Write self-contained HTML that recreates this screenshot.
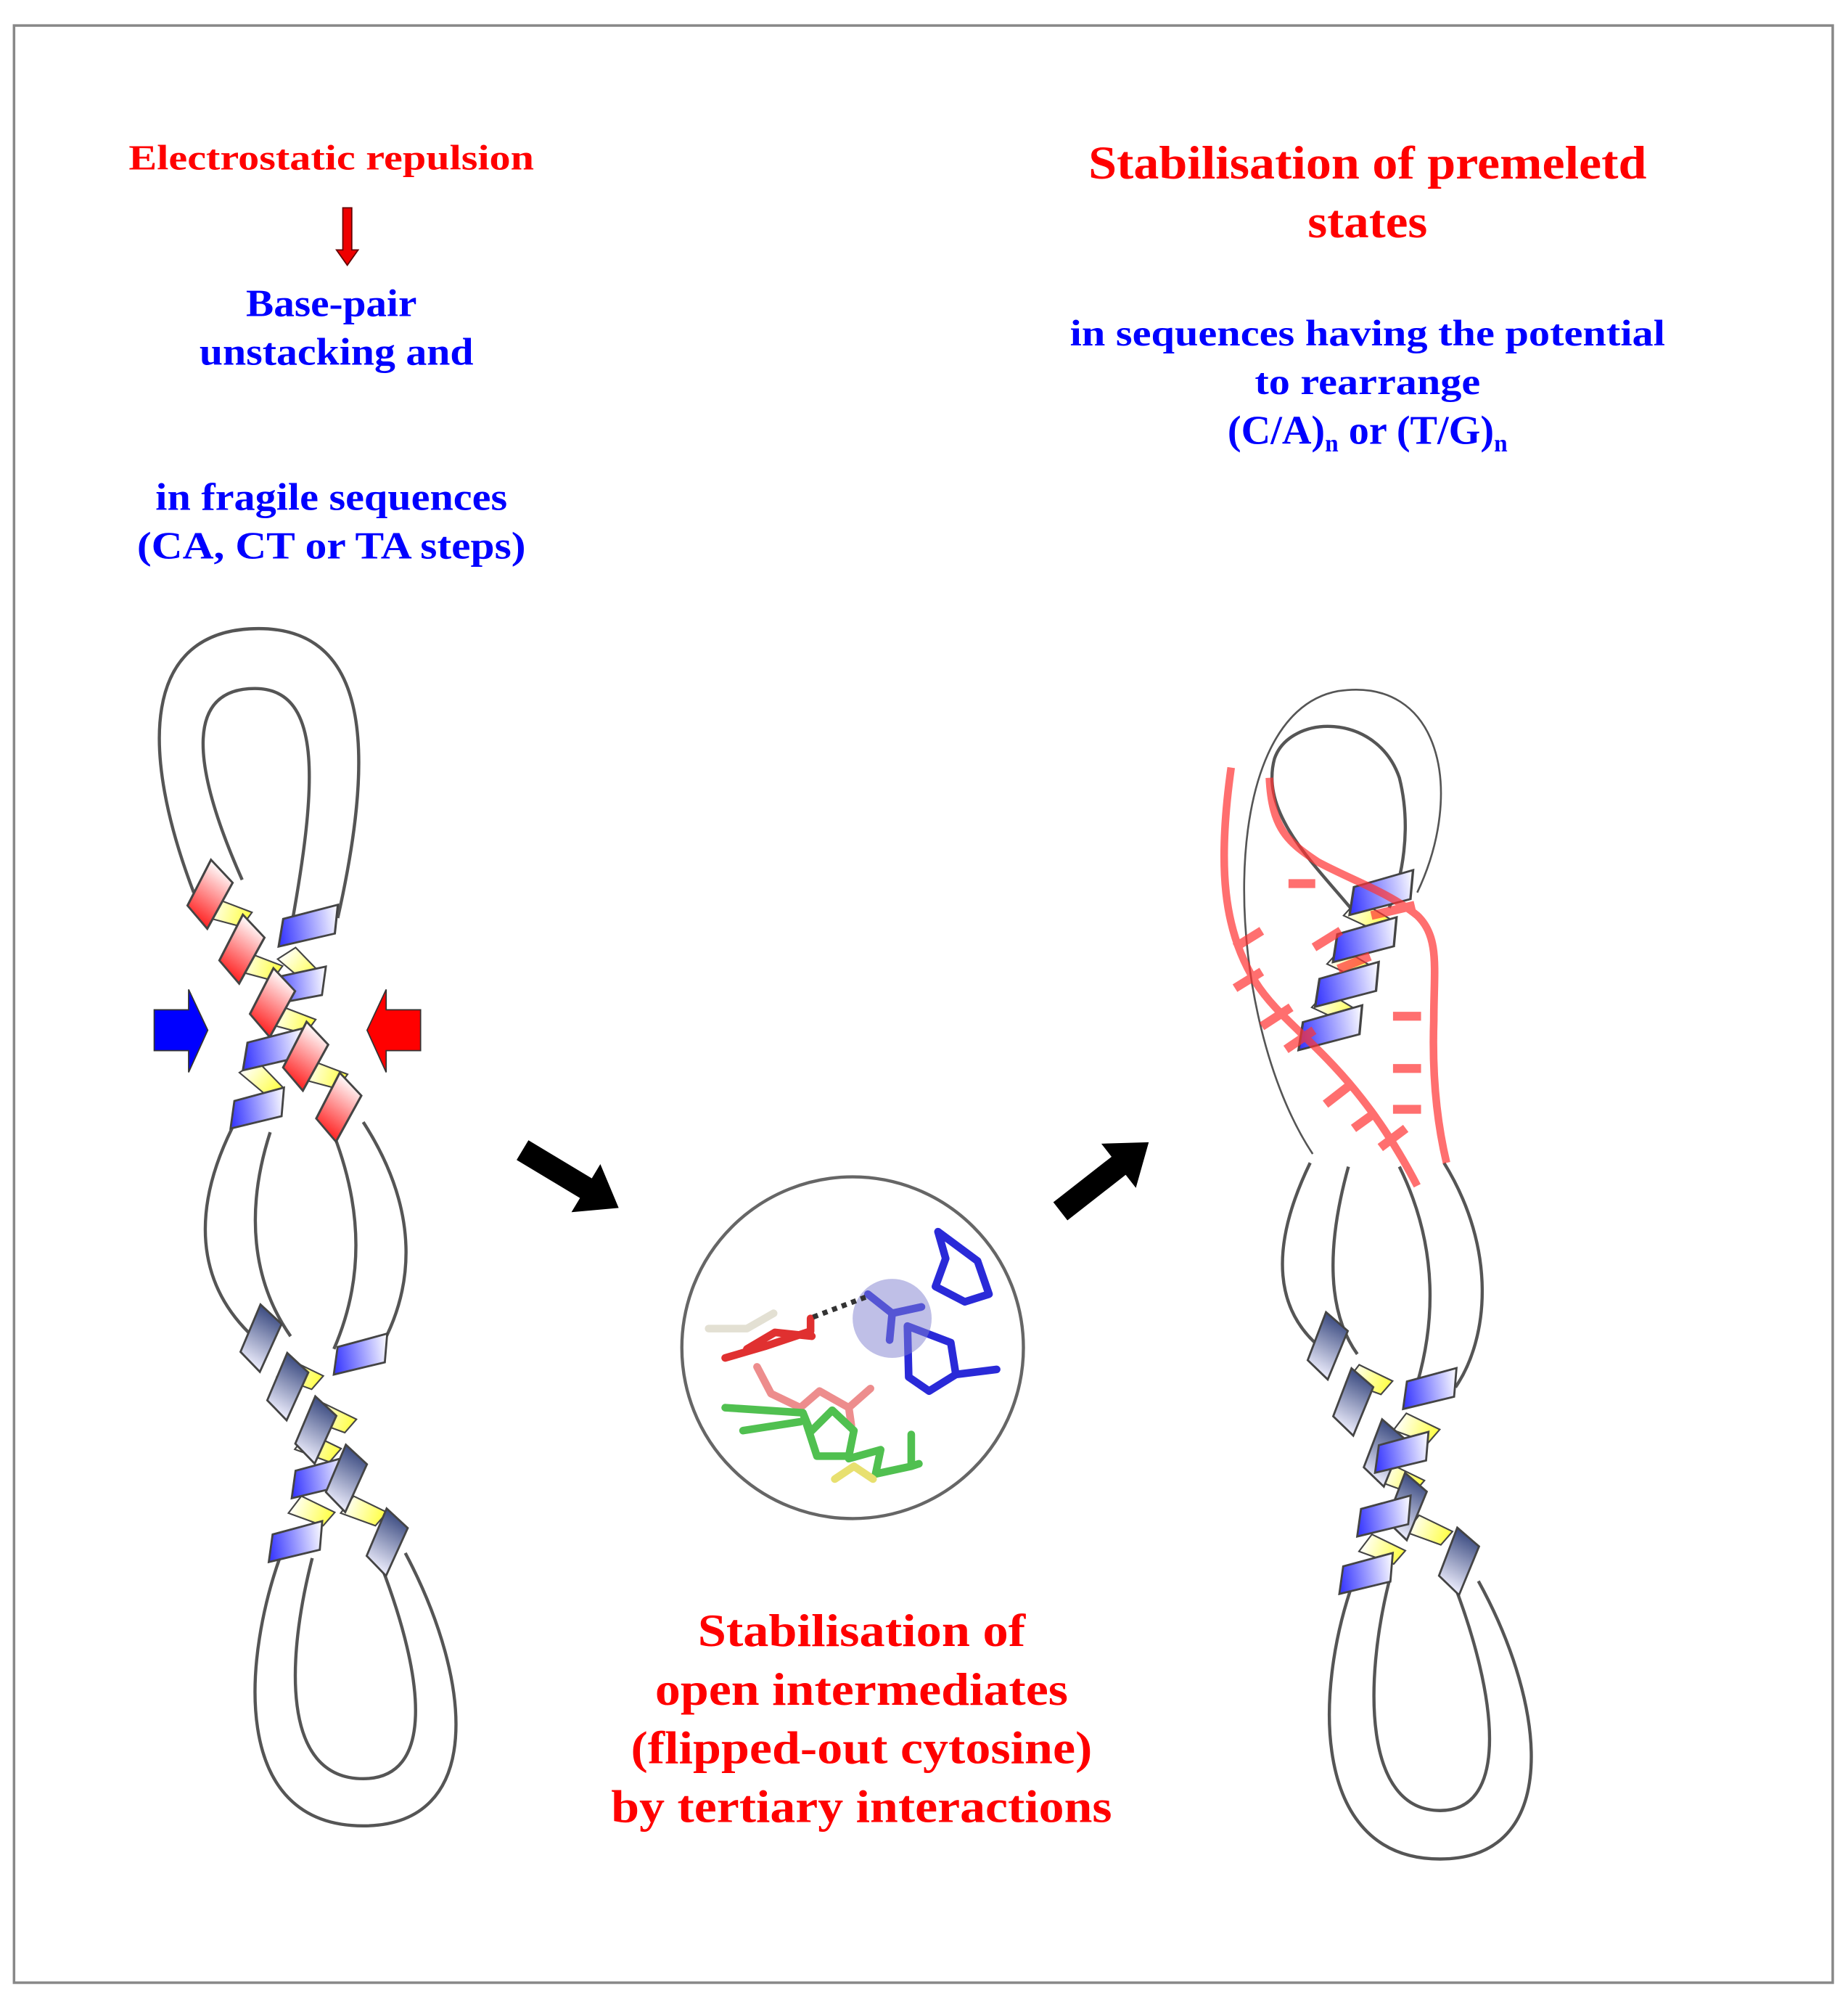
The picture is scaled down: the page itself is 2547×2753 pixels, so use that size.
<!DOCTYPE html>
<html><head><meta charset="utf-8"><style>html,body{margin:0;padding:0;background:#fff}svg{display:block}</style></head>
<body>
<svg width="2547" height="2753" viewBox="0 0 1450 1567" preserveAspectRatio="none" xmlns="http://www.w3.org/2000/svg">
<defs>
<linearGradient id="gR" x1="0" x2="1"><stop offset="0" stop-color="#ff2020"/><stop offset="1" stop-color="#fff"/></linearGradient>
<linearGradient id="gB" x1="0" x2="1"><stop offset="0" stop-color="#3030ff"/><stop offset="1" stop-color="#fff"/></linearGradient>
<linearGradient id="gY" x1="0" x2="1"><stop offset="0" stop-color="#fff"/><stop offset="1" stop-color="#ffff40"/></linearGradient>
<linearGradient id="gS" x1="0" x2="1"><stop offset="0" stop-color="#f0f0ff"/><stop offset="1" stop-color="#3a4a80"/></linearGradient>
<polygon id="seg" points="-23,12 -17,-9 23,-14 18,8" stroke="#444" stroke-width="1.6"/>
<polygon id="ys" points="-17,8 -12,-8 17,-5 12,8" stroke="#444" stroke-width="1.2"/>
</defs>
<rect x="11" y="20" width="1427" height="1535" fill="#fff" stroke="#888" stroke-width="2"/>

<g font-family="'Liberation Serif', serif" font-weight="bold" text-anchor="middle">
<text x="260" y="133" font-size="28" fill="#f00" textLength="318" lengthAdjust="spacingAndGlyphs">Electrostatic repulsion</text>
<text x="260" y="248" font-size="30" fill="#00f" textLength="134" lengthAdjust="spacingAndGlyphs">Base-pair</text>
<text x="264" y="286" font-size="30" fill="#00f" textLength="215" lengthAdjust="spacingAndGlyphs">unstacking and</text>
<text x="260" y="400" font-size="30" fill="#00f" textLength="276" lengthAdjust="spacingAndGlyphs">in fragile sequences</text>
<text x="260" y="438" font-size="30" fill="#00f" textLength="305" lengthAdjust="spacingAndGlyphs">(CA, CT or TA steps)</text>
<text x="1073" y="140" font-size="37" fill="#f00" textLength="438" lengthAdjust="spacingAndGlyphs">Stabilisation of premeletd</text>
<text x="1073" y="186" font-size="37" fill="#f00" textLength="94" lengthAdjust="spacingAndGlyphs">states</text>
<text x="1073" y="271" font-size="29" fill="#00f" textLength="467" lengthAdjust="spacingAndGlyphs">in sequences having the potential</text>
<text x="1073" y="309" font-size="29" fill="#00f" textLength="177" lengthAdjust="spacingAndGlyphs">to rearrange</text>
<text x="1073" y="348" font-size="32" fill="#00f">(C/A)<tspan font-size="19" dy="6">n</tspan><tspan dy="-6"> or (T/G)</tspan><tspan font-size="19" dy="6">n</tspan></text>
<g font-size="36" fill="#f00">
<text x="676" y="1291" textLength="257" lengthAdjust="spacingAndGlyphs">Stabilisation of</text>
<text x="676" y="1337" textLength="324" lengthAdjust="spacingAndGlyphs">open intermediates</text>
<text x="676" y="1383" textLength="362" lengthAdjust="spacingAndGlyphs">(flipped-out cytosine)</text>
<text x="676" y="1429" textLength="393" lengthAdjust="spacingAndGlyphs">by tertiary interactions</text>
</g>
</g>

<polygon points="269,163 276,163 276,196 281,196 272.5,208 264,196 269,196" fill="#e00" stroke="#600" stroke-width="1"/>

<!-- LEFT strands -->
<g fill="none" stroke="#555" stroke-width="2.5">
<path d="M152 700 C110 590 110 493 203 493 C295 493 292 600 265 720"/>
<path d="M190 690 C150 600 145 540 200 540 C255 540 248 620 228 730"/>
<path d="M182 885 C150 950 155 1005 195 1045"/>
<path d="M212 888 C192 950 198 1005 228 1048"/>
<path d="M262 890 C285 950 285 1005 262 1058"/>
<path d="M285 880 C330 950 325 1010 298 1058"/>
<path d="M222 1215 C190 1300 180 1432 285 1432 C380 1432 372 1320 318 1218"/>
<path d="M245 1222 C225 1300 220 1395 285 1395 C340 1395 335 1320 298 1225"/>
</g>
<g>
<use href="#ys" fill="url(#gY)" transform="translate(180,716) rotate(15)"/>
<use href="#ys" fill="url(#gY)" transform="translate(204,758) rotate(15)"/>
<use href="#ys" fill="url(#gY)" transform="translate(236,757) rotate(40)"/>
<use href="#ys" fill="url(#gY)" transform="translate(230,800) rotate(15)"/>
<use href="#ys" fill="url(#gY)" transform="translate(206,846) rotate(40)"/>
<use href="#ys" fill="url(#gY)" transform="translate(255,843) rotate(15)"/>
<use href="#seg" fill="url(#gB)" transform="translate(242,727) rotate(-8) scale(1.1,1)"/>
<use href="#seg" fill="url(#gB)" transform="translate(234,774) rotate(-5)"/>
<use href="#seg" fill="url(#gR)" transform="translate(165,702) rotate(-55) scale(1,1.1)"/>
<use href="#seg" fill="url(#gR)" transform="translate(190,745) rotate(-55) scale(1,1.1)"/>
<use href="#seg" fill="url(#gR)" transform="translate(214,787) rotate(-55) scale(1,1.1)"/>
<use href="#seg" fill="url(#gB)" transform="translate(214,824) rotate(-8) scale(1.1,1)"/>
<use href="#seg" fill="url(#gR)" transform="translate(240,829) rotate(-55) scale(1,1.1)"/>
<use href="#seg" fill="url(#gB)" transform="translate(202,870) rotate(-8)"/>
<use href="#seg" fill="url(#gR)" transform="translate(266,869) rotate(-55) scale(1,1.1)"/>
</g>
<polygon points="121,792 148,792 148,776 163,808 148,841 148,824 121,824" fill="#00f" stroke="#333" stroke-width="1"/>
<polygon points="330,792 303,792 303,776 288,808 303,841 303,824 330,824" fill="#f00" stroke="#333" stroke-width="1"/>
<g>
<use href="#ys" fill="url(#gY)" transform="translate(236,1078) rotate(20)"/>
<use href="#ys" fill="url(#gY)" transform="translate(262,1112) rotate(20)"/>
<use href="#ys" fill="url(#gY)" transform="translate(250,1135) rotate(20)"/>
<use href="#ys" fill="url(#gY)" transform="translate(286,1185) rotate(20)"/>
<use href="#ys" fill="url(#gY)" transform="translate(245,1185) rotate(20)"/>
<use href="#seg" fill="url(#gS)" transform="translate(205,1050) rotate(-60)"/>
<use href="#seg" fill="url(#gB)" transform="translate(283,1063) rotate(-8)"/>
<use href="#seg" fill="url(#gS)" transform="translate(226,1088) rotate(-60)"/>
<use href="#seg" fill="url(#gS)" transform="translate(248,1122) rotate(-60)"/>
<use href="#seg" fill="url(#gB)" transform="translate(250,1160) rotate(-8)"/>
<use href="#seg" fill="url(#gS)" transform="translate(272,1160) rotate(-60)"/>
<use href="#seg" fill="url(#gB)" transform="translate(232,1210) rotate(-8)"/>
<use href="#seg" fill="url(#gS)" transform="translate(304,1210) rotate(-60)"/>
</g>

<polygon points="0,-9 58,-9 58,-22 88,0 58,22 58,9 0,9" fill="#000" transform="translate(410,902) rotate(31)"/>
<polygon points="0,-9 58,-9 58,-22 88,0 58,22 58,9 0,9" fill="#000" transform="translate(832,950) rotate(-38)"/>

<circle cx="669" cy="1057" r="134" fill="#fff" stroke="#666" stroke-width="2.5"/>
<g fill="none" stroke-linecap="round" stroke-linejoin="round" stroke-width="6">
<path d="M556 1042 L586 1042 L607 1030" stroke="#dcd8c8" opacity=".8"/>
<path d="M594 1072 L605 1093 L628 1104 L643 1091 L666 1104 L683 1089 M666 1104 L668 1118" stroke="#e87070" opacity=".8"/>
<path d="M569 1065 L600 1056 L636 1044 L636 1034 M586 1058 L608 1045 L637 1048" stroke="#e03030"/>
<path d="M569 1104 L630 1108 M583 1122 L628 1115 M630 1108 L636 1123 L653 1106 L670 1122 L666 1142 L641 1142 Z M666 1144 L691 1137 L687 1156 L715 1150 L715 1125 M715 1150 L721 1148" stroke="#50c050"/>
<path d="M655 1160 L670 1150 L685 1160" stroke="#e8e070"/>
<path d="M736 966 L742 987 L734 1009 L757 1021 L776 1015 L767 989 Z M742 987 L736 966 M681 1015 L700 1030 L698 1051 M700 1030 L723 1025 M712 1040 L746 1053 L750 1078 L729 1091 L713 1080 Z M750 1078 L782 1074" stroke="#2a2ad8"/>
</g>
<circle cx="700" cy="1034" r="31" fill="#8080d0" opacity=".5"/>
<path d="M638 1033 L680 1017" stroke="#333" stroke-width="4" stroke-dasharray="4 4"/>

<!-- RIGHT strands -->
<g fill="none" stroke="#555" stroke-width="2.5">
<path d="M1030 905 C960 800 950 560 1050 542 C1130 530 1150 620 1112 700" stroke-width="1.5"/>
<path d="M1083 745 C1060 700 985 650 1000 595 C1012 560 1080 558 1098 610 C1108 650 1100 690 1090 712"/>
<path d="M1028 912 C995 980 1000 1030 1040 1060"/>
<path d="M1058 915 C1040 980 1042 1030 1065 1062"/>
<path d="M1098 915 C1130 980 1125 1040 1112 1085"/>
<path d="M1133 912 C1175 980 1168 1050 1142 1088"/>
<path d="M1062 1240 C1030 1330 1030 1458 1130 1458 C1225 1458 1215 1340 1160 1240"/>
<path d="M1090 1240 C1070 1320 1070 1420 1130 1420 C1185 1420 1175 1330 1140 1240"/>
</g>
<g>
<use href="#ys" fill="url(#gY)" transform="translate(1073,718) rotate(25)"/>
<use href="#ys" fill="url(#gY)" transform="translate(1060,756) rotate(25)"/>
<use href="#ys" fill="url(#gY)" transform="translate(1048,790) rotate(25)"/>
<use href="#seg" fill="url(#gB)" transform="translate(1084,701) rotate(-10) scale(1.2,1)"/>
<use href="#seg" fill="url(#gB)" transform="translate(1071,738) rotate(-10) scale(1.2,1)"/>
<use href="#seg" fill="url(#gB)" transform="translate(1057,773) rotate(-10) scale(1.2,1)"/>
<use href="#seg" fill="url(#gB)" transform="translate(1044,807) rotate(-10) scale(1.2,1)"/>
</g>
<g>
<use href="#ys" fill="url(#gY)" transform="translate(1075,1082) rotate(20)"/>
<use href="#ys" fill="url(#gY)" transform="translate(1112,1120) rotate(20)"/>
<use href="#ys" fill="url(#gY)" transform="translate(1100,1160) rotate(20)"/>
<use href="#ys" fill="url(#gY)" transform="translate(1122,1200) rotate(20)"/>
<use href="#ys" fill="url(#gY)" transform="translate(1085,1215) rotate(20)"/>
<use href="#seg" fill="url(#gS)" transform="translate(1042,1056) rotate(-62)"/>
<use href="#seg" fill="url(#gB)" transform="translate(1122,1090) rotate(-8)"/>
<use href="#seg" fill="url(#gS)" transform="translate(1062,1100) rotate(-62)"/>
<use href="#seg" fill="url(#gS)" transform="translate(1086,1140) rotate(-62)"/>
<use href="#seg" fill="url(#gB)" transform="translate(1100,1140) rotate(-8)"/>
<use href="#seg" fill="url(#gS)" transform="translate(1104,1182) rotate(-62)"/>
<use href="#seg" fill="url(#gB)" transform="translate(1086,1190) rotate(-8)"/>
<use href="#seg" fill="url(#gB)" transform="translate(1072,1235) rotate(-8)"/>
<use href="#seg" fill="url(#gS)" transform="translate(1145,1225) rotate(-62)"/>
</g>
<g fill="none" stroke="#f33" opacity=".7" stroke-linecap="butt">
<path d="M966 602 C955 680 960 730 985 770 C1010 810 1060 830 1112 930" stroke-width="6"/>
<path d="M996 610 C998 650 1010 660 1034 676 C1060 690 1090 700 1112 718 C1130 735 1125 760 1125 800 C1124 830 1125 870 1135 912" stroke-width="6"/>
<g stroke-width="7">
<path d="M1011 693 L1032 693"/>
<path d="M969 743 L990 730"/><path d="M1031 743 L1052 730"/>
<path d="M969 775 L990 762"/>
<path d="M990 805 L1013 790"/><path d="M1009 823 L1031 808"/>
<path d="M1050 760 L1075 750"/><path d="M1076 718 L1110 710"/>
<path d="M1093 797 L1115 797"/><path d="M1093 838 L1115 838"/><path d="M1093 870 L1115 870"/>
<path d="M1040 866 L1058 852"/><path d="M1062 885 L1080 872"/><path d="M1083 900 L1103 885"/>
</g>
</g>
</svg>
</body></html>
